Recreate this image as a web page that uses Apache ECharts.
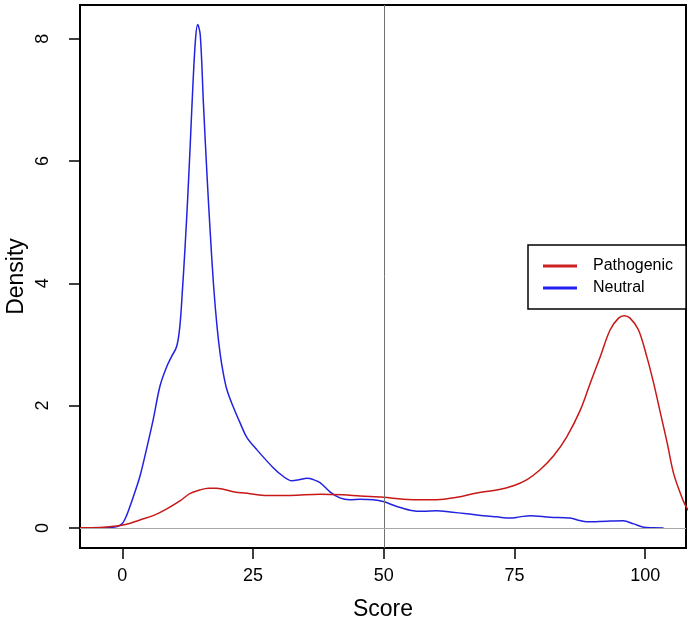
<!DOCTYPE html>
<html>
<head>
<meta charset="utf-8">
<script src="https://cdn.jsdelivr.net/npm/echarts@6/dist/echarts.min.js"></script>
<style>
html,body{margin:0;padding:0;background:#fff;}
#chart{width:690px;height:628px;}
</style>
</head>
<body>
<div id="chart"></div>
<script>
// ---- data ----
var seriesNames = ['Pathogenic', 'Neutral'];
var xTicks = [0, 25, 50, 75, 100];
var yTicks = [0, 2, 4, 6, 8];

var neutralScore = [-3.8,-2.5,-1.0,0.0,0.8,1.5,2.1,3.35,4.6,5.9,7.2,8.5,9.4,10.4,11.0,11.5,12.0,12.5,13.0,13.5,14.0,14.4,14.9,15.5,16.2,16.8,17.45,18.1,18.7,19.3,20.0,21.2,22.6,23.8,25.7,28.9,30.8,32.4,34.0,35.3,36.5,37.8,39.7,41.6,43.5,45.5,48.0,49.9,52.5,55.0,57.6,60.1,62.7,65.9,69.0,71.6,74.2,76.0,78.0,81.8,85.6,87.5,88.8,92.7,95.8,97.8,99.7,101.5,103.5];
var neutralDensity = [0.0,0.005,0.02,0.07,0.2,0.36,0.51,0.84,1.28,1.77,2.32,2.64,2.80,2.97,3.3,3.9,4.6,5.4,6.3,7.25,8.0,8.23,8.06,6.95,5.75,4.84,3.96,3.3,2.85,2.53,2.26,1.98,1.70,1.48,1.28,0.98,0.84,0.77,0.79,0.81,0.79,0.74,0.59,0.49,0.46,0.47,0.46,0.43,0.35,0.29,0.27,0.28,0.26,0.23,0.20,0.18,0.16,0.18,0.20,0.175,0.16,0.12,0.10,0.11,0.115,0.065,0.01,0.003,0.0];

var pathogenicScore = [-8.1,-4.3,-1.1,0.8,3.35,5.9,8.5,11.0,12.9,14.8,16.5,18.0,21.2,24.4,27.6,32.1,37.8,42.2,45.5,49.9,53.7,57.6,60.1,64.0,67.8,71.6,74.8,77.4,79.9,82.4,85.0,87.6,89.5,91.4,93.3,94.9,96.0,97.1,98.7,100.3,101.6,102.9,104.2,105.4,106.7,107.8,109.5,111.0];
var pathogenicDensity = [0.002,0.005,0.03,0.06,0.13,0.2,0.31,0.44,0.56,0.62,0.65,0.65,0.59,0.56,0.53,0.53,0.55,0.54,0.52,0.50,0.47,0.46,0.46,0.50,0.57,0.62,0.69,0.79,0.95,1.17,1.49,1.93,2.37,2.80,3.24,3.43,3.47,3.43,3.24,2.80,2.37,1.88,1.39,0.90,0.57,0.35,0.15,0.06];

var refScore = 50;
var refDensity = 0;

function pairs(xs, ys) { return xs.map(function (x, i) { return [x, ys[i]]; }); }

var FONT = 'Liberation Sans, Arial, Helvetica, sans-serif';
var chart = echarts.init(document.getElementById('chart'), null, {renderer: 'canvas'});
chart.setOption({
  animation: false,
  backgroundColor: '#fff',
  grid: {left: 80, right: 4, top: 5, bottom: 80, show: true, borderColor: '#000', borderWidth: 2,
         backgroundColor: 'transparent', containLabel: false, outerBoundsMode: 'none'},
  xAxis: {
    type: 'value', min: -8.1, max: 107.8,
    name: 'Score', nameLocation: 'middle', nameGap: 50, nameMoveOverlap: false,
    nameTextStyle: {fontSize: 23, color: '#000', fontFamily: FONT},
    axisLine: {show: false, onZero: false},
    axisTick: {show: true, inside: false, length: 11, lineStyle: {color: '#000', width: 1.5}, customValues: xTicks},
    axisLabel: {color: '#000', fontSize: 18, fontFamily: FONT, margin: 19, customValues: xTicks},
    splitLine: {show: false}
  },
  yAxis: {
    type: 'value', min: -0.329, max: 8.55,
    name: 'Density', nameLocation: 'middle', nameGap: 52, nameMoveOverlap: false,
    nameTextStyle: {fontSize: 23, color: '#000', fontFamily: FONT},
    axisLine: {show: false, onZero: false},
    axisTick: {show: true, inside: false, length: 11, lineStyle: {color: '#000', width: 1.5}, customValues: yTicks},
    axisLabel: {color: '#000', fontSize: 18, fontFamily: FONT, margin: 28, rotate: 90, customValues: yTicks},
    splitLine: {show: false}
  },
  legend: {
    orient: 'vertical', left: 528, top: 245,
    data: seriesNames,
    padding: [12, 13, 12, 15],
    itemGap: 4, itemWidth: 34, itemHeight: 3, icon: 'rect',
    borderColor: '#000', borderWidth: 1.5, borderRadius: 0, backgroundColor: '#fff',
    textStyle: {fontSize: 16, color: '#000', fontFamily: FONT, lineHeight: 18, padding: [0, 0, 0, 11]}
  },
  series: [
    {
      name: 'Neutral', type: 'line', data: pairs(neutralScore, neutralDensity),
      showSymbol: false, symbol: 'none', smooth: 0.35, clip: true,
      color: '#2020f0',
      lineStyle: {color: '#2222e0', width: 1.5},
      markLine: {
        silent: true, symbol: ['none', 'none'], label: {show: false},
        data: [
          {xAxis: refScore, lineStyle: {color: '#707070', width: 1, type: 'solid'}},
          {yAxis: refDensity, lineStyle: {color: '#a8a8a8', width: 1, type: 'solid'}}
        ]
      },
      z: 2
    },
    {
      name: 'Pathogenic', type: 'line', data: pairs(pathogenicScore, pathogenicDensity),
      showSymbol: false, symbol: 'none', smooth: 0.35, clip: true,
      color: '#cc2222',
      lineStyle: {color: '#c81818', width: 1.5},
      z: 3
    }
  ]
});
</script>
</body>
</html>
